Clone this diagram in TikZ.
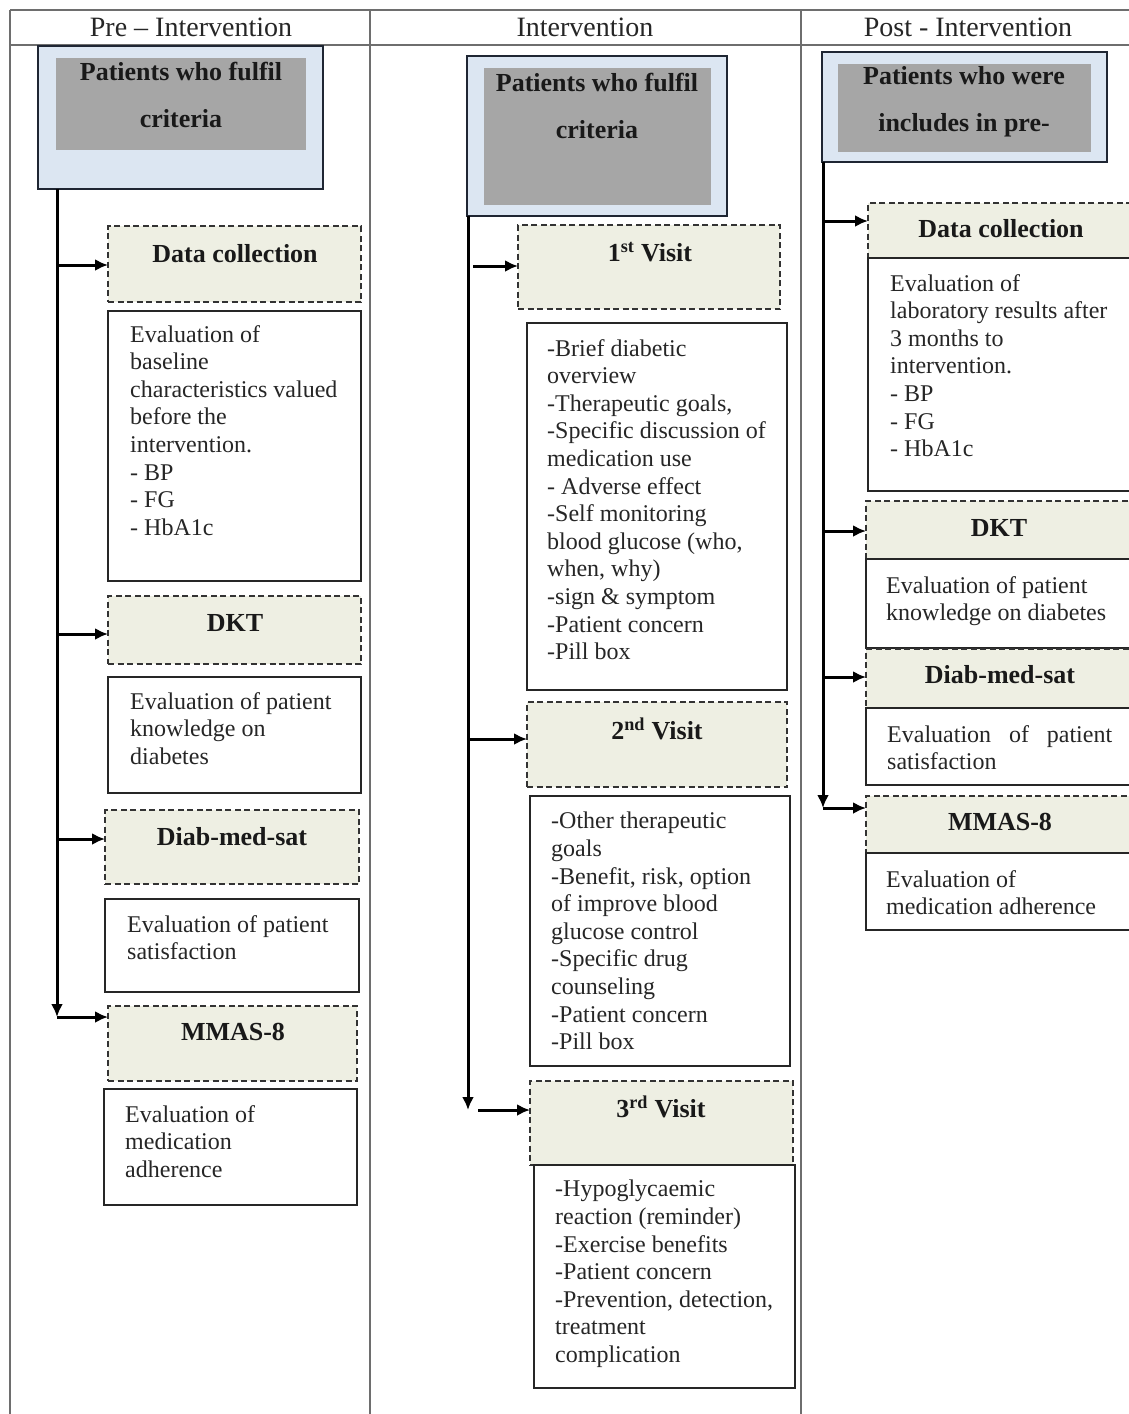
\documentclass[tikz,border=0pt]{standalone}
\usepackage{fontspec}
\setmainfont{Liberation Serif}
\usetikzlibrary{arrows.meta}
\definecolor{topblue}{HTML}{DCE6F2}
\definecolor{topgray}{HTML}{A6A6A6}
\definecolor{dfill}{HTML}{EEEFE3}
\definecolor{tline}{HTML}{6E6E6E}
\definecolor{topedge}{HTML}{1F2633}
\newcommand\drawbox[6]{\node[#6, minimum width={#4-#2}, minimum height={#5-#3}, anchor=north west, inner sep=0pt, outer sep=0pt] (#1) at (#2,#3) {};}
\begin{document}
\begin{tikzpicture}[x=1pt,y=-1pt,
 tbl/.style={draw=tline, line width=1.6pt},
 topouter/.style={draw=topedge, line width=2.8pt, fill=topblue},
 topinner/.style={fill=topgray},
 dbox/.style={draw=black!80, line width=2.6pt, dash pattern=on 6pt off 3.5pt, fill=dfill},
 ebox/.style={draw=black!85, line width=2.5pt, fill=white},
 arr/.style={line width=3pt, -{Latex[length=13pt,width=12pt]}},
 body/.style={font=\fontsize{24}{27.6}\selectfont, text=black!85, align=left, inner sep=0pt, anchor=north west},
 ttl/.style={font=\bfseries\fontsize{26}{30}\selectfont, text=black!90, inner sep=0pt},
 toptxt/.style={font=\bfseries\fontsize{26}{47}\selectfont, text=black!90, align=center, inner sep=0pt},
 hdr/.style={font=\fontsize{28}{30}\selectfont, text=black!85, inner sep=0pt}
]
\useasboundingbox (0,0) rectangle (1129,1414);
\clip (0,0) rectangle (1129,1414);
\fill[white] (0,0) rectangle (1129,1414);

% ---------- table ----------
\draw[tbl] (10,10) -- (1135,10);
\draw[tbl] (10,45) -- (1135,45);
\draw[tbl] (10,10) -- (10,1420);
\draw[tbl] (370,10) -- (370,1420);
\draw[tbl] (801,10) -- (801,1420);
\node[hdr] (h1) at (191,27) {Pre – Intervention};
\node[hdr] (h2) at (585,27) {Intervention};
\node[hdr] (h3) at (968,27) {Post - Intervention};

% ---------- column 1 ----------
\drawbox{tb1}{38}{46}{323}{189}{topouter}
\drawbox{in1}{56}{58}{306}{150}{topinner}
\node[toptxt] (tt1) at (181,95) {Patients who fulfil\\criteria};

\drawbox{dc1}{108}{226}{361}{302}{dbox}
\node[ttl] (dc1t) at (235,254) {Data collection};
\drawbox{e1}{108}{311}{361}{581}{ebox}
\node[body] (e1t) at (130,325) {Evaluation of\\baseline\\characteristics valued\\before the\\intervention.\\- BP\\- FG\\- HbA1c};

\drawbox{dk1}{108}{596}{361}{664}{dbox}
\node[ttl] (dk1t) at (235,623) {DKT};
\drawbox{e2}{108}{677}{361}{793}{ebox}
\node[body] (e2t) at (130,692) {Evaluation of patient\\knowledge on\\diabetes};

\drawbox{ds1}{105}{810}{359}{884}{dbox}
\node[ttl] (ds1t) at (232,837) {Diab-med-sat};
\drawbox{e3}{105}{899}{359}{992}{ebox}
\node[body] (e3t) at (127,915) {Evaluation of patient\\satisfaction};

\drawbox{mm1}{108}{1006}{357}{1081}{dbox}
\node[ttl] (mm1t) at (233,1032) {MMAS-8};
\drawbox{e4}{104}{1089}{357}{1205}{ebox}
\node[body] (e4t) at (125,1105) {Evaluation of\\medication\\adherence};

\coordinate (c1top) at (57,189);
\coordinate (c1a) at (57,265);
\coordinate (c1b) at (57,634);
\coordinate (c1c) at (57,839);
\coordinate (c1d) at (57,1017);
\draw[arr] (c1top) -- (c1d);
\draw[arr] (c1a) -- (dc1.west |- c1a);
\draw[arr] (c1b) -- (dk1.west |- c1b);
\draw[arr] (c1c) -- (ds1.west |- c1c);
\draw[arr] (c1d) -- (mm1.west |- c1d);

% ---------- column 2 ----------
\drawbox{tb2}{467}{56}{727}{216}{topouter}
\drawbox{in2}{484}{68}{711}{205}{topinner}
\node[toptxt] (tt2) at (597,106) {Patients who fulfil\\criteria};

\drawbox{vs1}{518}{225}{780}{309}{dbox}
\node[ttl] (vs1t) at (650,252) {1\textsuperscript{st} Visit};
\drawbox{b1}{527}{323}{787}{690}{ebox}
\node[body] (b1t) at (547,339) {-Brief diabetic\\overview\\-Therapeutic goals,\\-Specific discussion of\\medication use\\- Adverse effect\\-Self monitoring\\blood glucose (who,\\when, why)\\-sign \& symptom\\-Patient concern\\-Pill box};

\drawbox{vs2}{527}{702}{787}{787}{dbox}
\node[ttl] (vs2t) at (657,729) {2\textsuperscript{nd} Visit};
\drawbox{b2}{530}{796}{790}{1066}{ebox}
\node[body] (b2t) at (551,812) {-Other therapeutic\\goals\\-Benefit, risk, option\\of improve blood\\glucose control\\-Specific drug\\counseling\\-Patient concern\\-Pill box};

\drawbox{vs3}{530}{1081}{793}{1165}{dbox}
\node[ttl] (vs3t) at (661,1107) {3\textsuperscript{rd} Visit};
\drawbox{b3}{534}{1165}{795}{1388}{ebox}
\node[body] (b3t) at (555,1180) {-Hypoglycaemic\\reaction (reminder)\\-Exercise benefits\\-Patient concern\\-Prevention, detection,\\treatment\\complication};

\coordinate (c2top) at (468,216);
\coordinate (c2a) at (473,266);
\coordinate (c2b) at (468,739);
\coordinate (c2c) at (468,1110);
\coordinate (c2d) at (478,1110);
\draw[arr] (c2top) -- (c2c);
\draw[arr] (c2a) -- (vs1.west |- c2a);
\draw[arr] (c2b) -- (vs2.west |- c2b);
\draw[arr] (c2d) -- (vs3.west |- c2d);

% ---------- column 3 ----------
\drawbox{tb3}{822}{52}{1107}{162}{topouter}
\drawbox{in3}{838}{64}{1091}{152}{topinner}
\node[toptxt] (tt3) at (964,102) {Patients who were\\includes in pre-};

\drawbox{dc3}{868}{203}{1134}{258}{dbox}
\node[ttl] (dc3t) at (1001,229) {Data collection};
\drawbox{p1}{868}{258}{1134}{491}{ebox}
\node[body] (p1t) at (890,274) {Evaluation of\\laboratory results after\\3 months to\\intervention.\\- BP\\- FG\\- HbA1c};

\drawbox{dk3}{866}{501}{1134}{559}{dbox}
\node[ttl] (dk3t) at (999,528) {DKT};
\drawbox{p2}{866}{559}{1134}{648}{ebox}
\node[body] (p2t) at (886,576) {Evaluation of patient\\knowledge on diabetes};

\drawbox{ds3}{866}{649}{1134}{708}{dbox}
\node[ttl] (ds3t) at (1000,675) {Diab-med-sat};
\drawbox{p3}{866}{708}{1134}{785}{ebox}
\node[body] (p3t) at (887,725) {\makebox[225pt][s]{Evaluation of patient}\\satisfaction};

\drawbox{mm3}{866}{796}{1134}{853}{dbox}
\node[ttl] (mm3t) at (1000,822) {MMAS-8};
\drawbox{p4}{866}{853}{1134}{930}{ebox}
\node[body] (p4t) at (886,870) {Evaluation of\\medication adherence};

\coordinate (c3top) at (823,162);
\coordinate (c3a) at (823,221);
\coordinate (c3b) at (823,531);
\coordinate (c3c) at (823,677);
\coordinate (c3d) at (823,808);
\draw[arr] (c3top) -- (c3d);
\draw[arr] (c3a) -- (dc3.west |- c3a);
\draw[arr] (c3b) -- (dk3.west |- c3b);
\draw[arr] (c3c) -- (ds3.west |- c3c);
\draw[arr] (c3d) -- (mm3.west |- c3d);
\end{tikzpicture}
\end{document}
